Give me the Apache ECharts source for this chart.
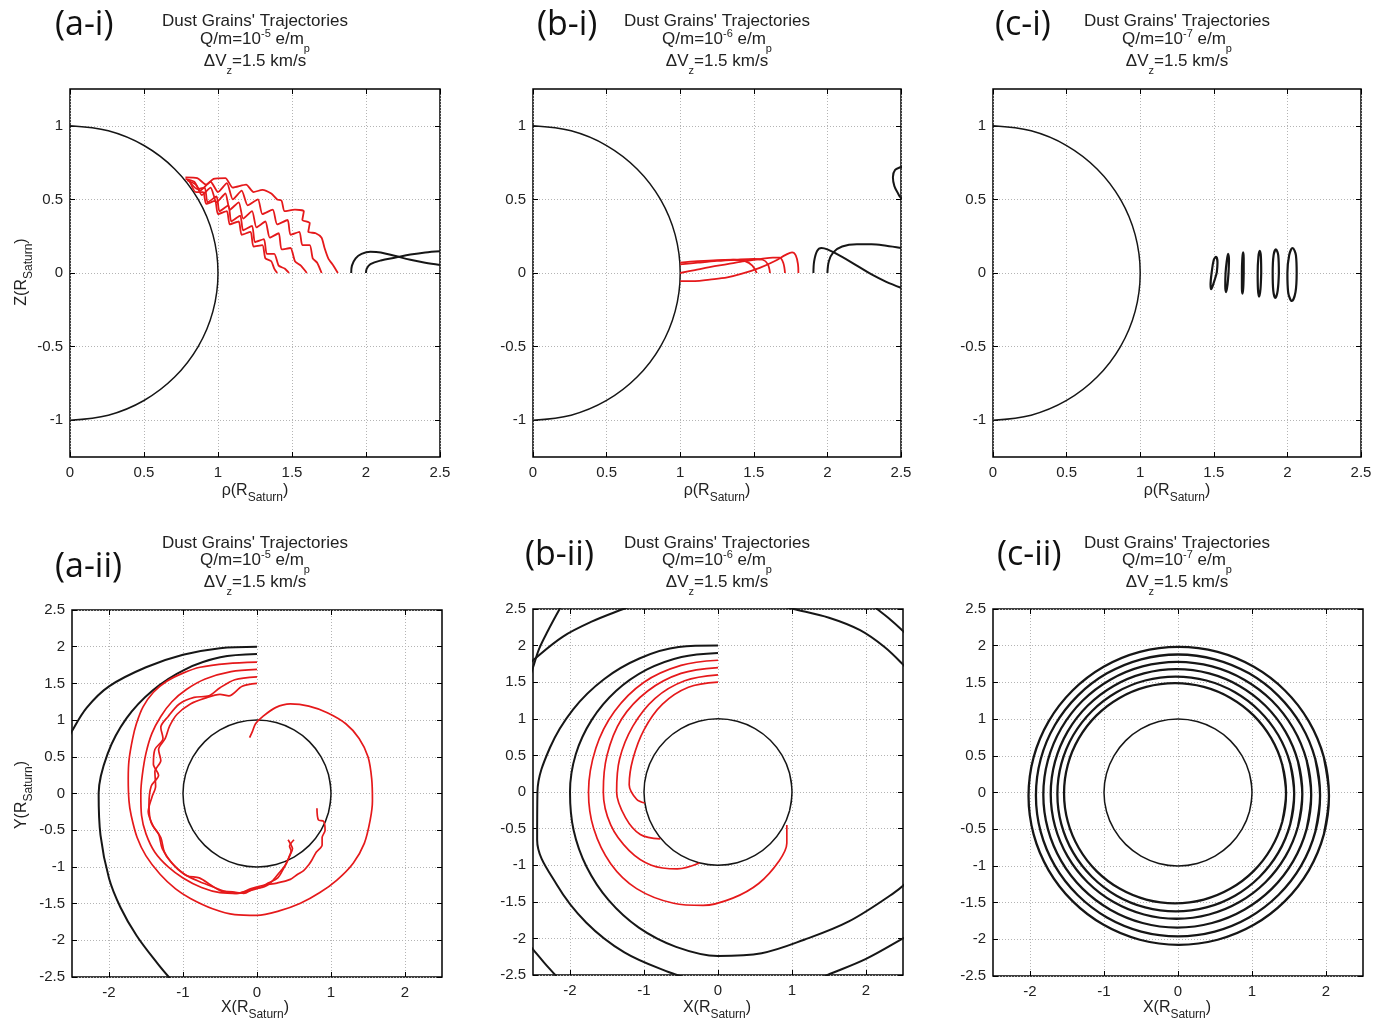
<!DOCTYPE html>
<html><head><meta charset="utf-8">
<script src="https://cdn.jsdelivr.net/npm/echarts@6/dist/echarts.min.js"></script>
<style>html,body{margin:0;padding:0;background:#fff}#c{width:1389px;height:1024px}</style>
</head><body><div id="c"></div>
<script>
// ---------- tick values ----------
const topXTicks = [0, 0.5, 1, 1.5, 2, 2.5];
const topYTicks = [-1, -0.5, 0, 0.5, 1];
const botXTicks = [-2, -1, 0, 1, 2];
const botYTicks = [-2.5, -2, -1.5, -1, -0.5, 0, 0.5, 1, 1.5, 2, 2.5];

// ---------- labels ----------
const panelLabels = ['(a-i)', '(b-i)', '(c-i)', '(a-ii)', '(b-ii)', '(c-ii)'];
const qmExponents = ['-5', '-6', '-7', '-5', '-6', '-7'];
const titleLine1 = "Dust Grains' Trajectories";

// ---------- Saturn outline ----------
const saturnHalf = [[0,1],[0.259,0.966],[0.5,0.866],[0.707,0.707],[0.866,0.5],[0.966,0.259],[1,0],[0.966,-0.259],[0.866,-0.5],[0.707,-0.707],[0.5,-0.866],[0.259,-0.966],[0,-1]];
const saturnCircle = [[0.966,-0.259],[1,0],[0.966,0.259],[0.866,0.5],[0.707,0.707],[0.5,0.866],[0.259,0.966],[0,1],[-0.259,0.966],[-0.5,0.866],[-0.707,0.707],[-0.866,0.5],[-0.966,0.259],[-1,0],[-0.966,-0.259],[-0.866,-0.5],[-0.707,-0.707],[-0.5,-0.866],[-0.259,-0.966],[0,-1],[0.259,-0.966],[0.5,-0.866],[0.707,-0.707],[0.866,-0.5],[0.966,-0.259],[1,0],[0.966,0.259]];

// ---------- (a-i) ----------
const aiRed1 = [[0.81,0.62],[0.85,0.55],[0.90,0.55],[0.92,0.47],[0.98,0.49],[1.0,0.40],[1.06,0.42],[1.08,0.33],[1.14,0.35],[1.16,0.26],[1.22,0.28],[1.24,0.18],[1.30,0.19],[1.32,0.10],[1.36,0.08],[1.38,0.03],[1.40,0]];
const aiRed2 = [[0.80,0.63],[0.86,0.57],[0.91,0.58],[0.93,0.48],[0.99,0.52],[1.01,0.42],[1.07,0.46],[1.09,0.35],[1.15,0.39],[1.17,0.29],[1.23,0.32],[1.25,0.21],[1.31,0.23],[1.33,0.13],[1.38,0.13],[1.41,0.05],[1.45,0.03],[1.48,0]];
const aiRed3 = [[0.79,0.63],[0.85,0.60],[0.89,0.53],[0.95,0.58],[0.99,0.48],[1.05,0.54],[1.08,0.43],[1.14,0.48],[1.17,0.37],[1.23,0.42],[1.26,0.31],[1.32,0.35],[1.35,0.24],[1.41,0.27],[1.43,0.16],[1.49,0.17],[1.52,0.08],[1.56,0.05],[1.60,0]];
const aiRed4 = [[0.78,0.64],[0.84,0.62],[0.88,0.56],[0.95,0.62],[1.0,0.55],[1.06,0.61],[1.10,0.50],[1.16,0.56],[1.20,0.46],[1.27,0.50],[1.30,0.40],[1.37,0.43],[1.40,0.33],[1.47,0.36],[1.49,0.26],[1.55,0.28],[1.57,0.19],[1.62,0.19],[1.64,0.10],[1.67,0.07],[1.70,0]];
const aiRed5 = [[0.78,0.65],[0.86,0.645],[0.92,0.60],[0.97,0.64],[1.05,0.645],[1.10,0.58],[1.19,0.60],[1.24,0.55],[1.30,0.565],[1.36,0.54],[1.40,0.50],[1.43,0.49],[1.45,0.42],[1.52,0.43],[1.58,0.42],[1.57,0.36],[1.62,0.34],[1.61,0.28],[1.66,0.27],[1.70,0.24],[1.72,0.17],[1.745,0.10],[1.78,0.05],[1.81,0]];
const aiBlack1 = [[1.90,0],[1.905,0.05],[1.93,0.10],[1.97,0.13],[2.03,0.145],[2.10,0.14],[2.20,0.115],[2.30,0.09],[2.40,0.07],[2.5,0.055]];
const aiBlack2 = [[2.0,0],[2.005,0.03],[2.03,0.06],[2.10,0.085],[2.20,0.105],[2.30,0.125],[2.40,0.14],[2.5,0.148]];

// ---------- (b-i) ----------
const biRed1 = [[1.0,-0.055],[1.1,-0.055],[1.2,-0.045],[1.32,-0.03],[1.42,-0.005],[1.54,0.035],[1.64,0.08],[1.72,0.125],[1.76,0.14],[1.785,0.12],[1.80,0.06],[1.803,0]];
const biRed2 = [[1.0,0.0],[1.1,0.02],[1.2,0.04],[1.32,0.06],[1.44,0.08],[1.55,0.095],[1.63,0.105],[1.675,0.105],[1.70,0.07],[1.712,0]];
const biRed3 = [[1.0,0.058],[1.12,0.07],[1.25,0.082],[1.38,0.09],[1.50,0.095],[1.56,0.09],[1.595,0.06],[1.61,0]];
const biRed4 = [[1.0,0.07],[1.12,0.08],[1.25,0.088],[1.36,0.09],[1.44,0.08],[1.49,0.05],[1.52,0]];
const biBlack1 = [[1.905,0],[1.91,0.08],[1.93,0.15],[1.96,0.17],[2.0,0.16],[2.1,0.11],[2.2,0.05],[2.3,-0.01],[2.4,-0.06],[2.5,-0.1]];
const biBlack2 = [[2.0,0],[2.01,0.08],[2.04,0.14],[2.1,0.18],[2.2,0.195],[2.3,0.195],[2.4,0.185],[2.5,0.17]];
const biBlack3 = [[2.55,0.74],[2.5,0.72],[2.46,0.70],[2.445,0.65],[2.455,0.59],[2.48,0.54],[2.5,0.51],[2.55,0.49]];

// ---------- (c-i) ----------
const ciLoop1 = [[1.52,0.0],[1.525,0.07],[1.515,0.11],[1.50,0.09],[1.485,0.0],[1.478,-0.08],[1.482,-0.11],[1.495,-0.08],[1.52,0.0]];
const ciLoop2 = [[1.600,0],[1.603,0.09],[1.597,0.13],[1.588,0.08],[1.580,0],[1.578,-0.09],[1.584,-0.13],[1.593,-0.08],[1.600,0]];
const ciLoop3 = [[1.703,0],[1.703,0.10],[1.699,0.14],[1.694,0.10],[1.691,0],[1.691,-0.10],[1.695,-0.14],[1.700,-0.10],[1.703,0]];
const ciLoop4 = [[1.822,0],[1.820,0.11],[1.812,0.15],[1.803,0.11],[1.798,0],[1.800,-0.11],[1.808,-0.16],[1.817,-0.11],[1.822,0]];
const ciLoop5 = [[1.942,0],[1.938,0.12],[1.922,0.16],[1.906,0.12],[1.900,0],[1.904,-0.12],[1.918,-0.17],[1.934,-0.12],[1.942,0]];
const ciLoop6 = [[2.063,0],[2.058,0.12],[2.035,0.17],[2.012,0.12],[2.000,0],[2.005,-0.13],[2.030,-0.19],[2.055,-0.13],[2.063,0]];

// ---------- (a-ii) ----------
const aiiBlack1 = [[0,2.0],[-0.5,1.98],[-1.0,1.89],[-1.5,1.72],[-2.0,1.46],[-2.3,1.17],[-2.5,0.85],[-2.6,0.65]];
const aiiBlack2 = [[0,1.9],[-0.497,1.855],[-0.975,1.689],[-1.407,1.407],[-1.767,1.02],[-2.019,0.541],[-2.14,0],[-2.115,-0.567],[-2.0,-1.155],[-1.846,-1.549],[-1.626,-1.938],[-1.34,-2.321],[-1.175,-2.52],[-0.992,-2.725]];
const aiiRed1 = [[0,1.79],[-0.4,1.77],[-0.77,1.72],[-1.0,1.64],[-1.22,1.53],[-1.40,1.38],[-1.54,1.18],[-1.63,0.95],[-1.68,0.75],[-1.73,0.45],[-1.74,0.2],[-1.73,-0.1],[-1.70,-0.3],[-1.62,-0.6],[-1.5,-0.85],[-1.31,-1.1],[-1.1,-1.3],[-0.9,-1.43],[-0.6,-1.57],[-0.3,-1.65],[0.0,-1.66],[0.3,-1.6],[0.58,-1.5],[0.85,-1.35],[1.08,-1.18],[1.3,-0.95],[1.45,-0.68],[1.53,-0.36],[1.56,-0.1],[1.55,0.2],[1.5,0.5],[1.38,0.75],[1.2,0.95],[0.95,1.1],[0.7,1.19],[0.45,1.22],[0.25,1.17],[0.08,1.05],[-0.02,0.95],[-0.06,0.85],[-0.1,0.76]];
const aiiRed2 = [[0,1.69],[-0.35,1.66],[-0.7,1.56],[-0.95,1.42],[-1.15,1.25],[-1.3,1.05],[-1.42,0.82],[-1.5,0.55],[-1.55,0.25],[-1.57,0.0],[-1.56,-0.3],[-1.5,-0.55],[-1.38,-0.8],[-1.2,-1.0],[-1.0,-1.15],[-0.75,-1.28],[-0.5,-1.35],[-0.25,-1.36],[-0.09,-1.3],[0.09,-1.25],[0.27,-1.22],[0.45,-1.17],[0.55,-1.1],[0.63,-1.05],[0.7,-0.97],[0.74,-0.91],[0.8,-0.8],[0.88,-0.7],[0.88,-0.6],[0.92,-0.5],[0.9,-0.38],[0.83,-0.36],[0.81,-0.2]];
const aiiRed3 = [[0,1.59],[-0.3,1.55],[-0.5,1.44],[-0.65,1.33],[-0.85,1.31],[-1.05,1.22],[-1.2,1.05],[-1.3,0.9],[-1.27,0.75],[-1.38,0.6],[-1.4,0.4],[-1.33,0.25],[-1.43,0.1],[-1.46,-0.15],[-1.43,-0.4],[-1.33,-0.55],[-1.28,-0.75],[-1.15,-0.95],[-0.98,-1.1],[-0.78,-1.2],[-0.6,-1.27],[-0.45,-1.33],[-0.3,-1.36],[-0.12,-1.33],[0.05,-1.28],[0.15,-1.22],[0.28,-1.15],[0.36,-1.02],[0.42,-0.9],[0.46,-0.78],[0.44,-0.72],[0.5,-0.63]];
const aiiRed4 = [[0,1.50],[-0.2,1.46],[-0.38,1.33],[-0.5,1.35],[-0.7,1.3],[-0.9,1.22],[-1.08,1.08],[-1.18,0.92],[-1.24,0.75],[-1.33,0.6],[-1.3,0.45],[-1.38,0.3],[-1.37,0.1],[-1.42,-0.05],[-1.47,-0.25],[-1.4,-0.45],[-1.3,-0.6],[-1.25,-0.8],[-1.12,-0.98],[-0.95,-1.12],[-0.78,-1.15],[-0.62,-1.25],[-0.48,-1.33],[-0.33,-1.34],[-0.18,-1.36],[-0.05,-1.3],[0.1,-1.27],[0.2,-1.2],[0.3,-1.08],[0.38,-0.98],[0.44,-0.85],[0.48,-0.75],[0.46,-0.7],[0.42,-0.63]];

// ---------- (b-ii) ----------
const biiBlack1 = [[0,1.9],[-0.494,1.845],[-0.965,1.671],[-1.379,1.379],[-1.706,0.985],[-1.922,0.515],[-2.0,0],[-1.951,-0.523],[-1.775,-1.025],[-1.478,-1.478],[-1.07,-1.853],[-0.567,-2.115],[0,-2.24],[0.59,-2.202],[1.165,-2.018],[1.768,-1.768],[2.382,-1.375],[2.583,-1.204]];
const biiBlack2 = [[0,2.0],[-0.531,1.98],[-1.055,1.827],[-1.541,1.541],[-1.957,1.13],[-2.27,0.608],[-2.44,0],[-2.444,-0.655],[-2.182,-1.26],[-1.782,-1.782],[-1.265,-2.191],[-0.66,-2.463],[-0.359,-2.555]];
const biiArc1 = [[0.9,2.53],[1.02,2.5],[1.5,2.38],[1.92,2.21],[2.25,1.98],[2.5,1.74],[2.6,1.62]];
const biiArc2 = [[-1.15,2.55],[-1.28,2.5],[-1.7,2.33],[-2.1,2.12],[-2.5,1.8],[-2.6,1.7]];
const biiArc3 = [[-2.08,2.6],[-2.14,2.5],[-2.3,2.2],[-2.42,1.95],[-2.5,1.7],[-2.55,1.55]];
const biiArc4 = [[2.05,2.58],[2.15,2.5],[2.3,2.38],[2.5,2.2],[2.6,2.1]];
const biiArc5 = [[-2.6,-2.03],[-2.5,-2.15],[-2.35,-2.33],[-2.2,-2.5],[-2.12,-2.6]];
const biiArc6 = [[1.3,-2.58],[1.48,-2.5],[2.0,-2.28],[2.5,-2.0],[2.6,-1.94]];
const biiRed1 = [[0,1.8],[-0.5,1.73],[-1.0,1.5],[-1.4,1.1],[-1.65,0.6],[-1.75,0],[-1.68,-0.5],[-1.45,-0.98],[-1.1,-1.32],[-0.6,-1.52],[-0.2,-1.55],[0.2,-1.45],[0.55,-1.25],[0.82,-0.95],[0.93,-0.7],[0.93,-0.45]];
const biiRed2 = [[0,1.7],[-0.5,1.62],[-0.95,1.38],[-1.3,1.0],[-1.5,0.5],[-1.55,0],[-1.45,-0.45],[-1.2,-0.8],[-0.9,-1.0],[-0.55,-1.05],[-0.25,-0.97]];
const biiRed3 = [[0,1.6],[-0.45,1.52],[-0.85,1.28],[-1.15,0.9],[-1.33,0.45],[-1.37,0],[-1.25,-0.35],[-1.05,-0.58],[-0.78,-0.64]];
const biiRed4 = [[0,1.5],[-0.4,1.43],[-0.75,1.2],[-1.0,0.85],[-1.15,0.45],[-1.2,0.1],[-1.1,-0.1],[-0.99,-0.15]];

// ---------- (c-ii) rings ----------
const ciiRing1 = [[1.409,-0.399],[1.46,-0.01],[1.409,0.379],[1.259,0.74],[1.021,1.051],[0.71,1.289],[0.349,1.439],[-0.04,1.49],[-0.429,1.439],[-0.79,1.289],[-1.101,1.051],[-1.339,0.74],[-1.489,0.379],[-1.54,-0.01],[-1.489,-0.399],[-1.339,-0.76],[-1.101,-1.071],[-0.79,-1.309],[-0.429,-1.459],[-0.04,-1.51],[0.349,-1.459],[0.71,-1.309],[1.021,-1.071],[1.259,-0.76],[1.409,-0.399],[1.46,-0.01],[1.409,0.379]];
const ciiRing2 = [[1.516,-0.434],[1.57,-0.02],[1.516,0.394],[1.356,0.78],[1.101,1.111],[0.77,1.366],[0.384,1.526],[-0.03,1.58],[-0.444,1.526],[-0.83,1.366],[-1.161,1.111],[-1.416,0.78],[-1.576,0.394],[-1.63,-0.02],[-1.576,-0.434],[-1.416,-0.82],[-1.161,-1.151],[-0.83,-1.406],[-0.444,-1.566],[-0.03,-1.62],[0.384,-1.566],[0.77,-1.406],[1.101,-1.151],[1.356,-0.82],[1.516,-0.434],[1.57,-0.02],[1.516,0.394]];
const ciiRing3 = [[1.622,-0.46],[1.68,-0.02],[1.622,0.42],[1.452,0.83],[1.182,1.182],[0.83,1.452],[0.42,1.622],[-0.02,1.68],[-0.46,1.622],[-0.87,1.452],[-1.222,1.182],[-1.492,0.83],[-1.662,0.42],[-1.72,-0.02],[-1.662,-0.46],[-1.492,-0.87],[-1.222,-1.222],[-0.87,-1.492],[-0.46,-1.662],[-0.02,-1.72],[0.42,-1.662],[0.83,-1.492],[1.182,-1.222],[1.452,-0.87],[1.622,-0.46],[1.68,-0.02],[1.622,0.42]];
const ciiRing4 = [[1.738,-0.499],[1.80,-0.03],[1.738,0.439],[1.557,0.875],[1.27,1.25],[0.895,1.537],[0.459,1.718],[-0.01,1.78],[-0.479,1.718],[-0.915,1.537],[-1.29,1.25],[-1.577,0.875],[-1.758,0.439],[-1.82,-0.03],[-1.758,-0.499],[-1.577,-0.935],[-1.29,-1.31],[-0.915,-1.597],[-0.479,-1.778],[-0.01,-1.84],[0.459,-1.778],[0.895,-1.597],[1.27,-1.31],[1.557,-0.935],[1.738,-0.499],[1.80,-0.03],[1.738,0.439]];
const ciiRing5 = [[1.855,-0.537],[1.92,-0.04],[1.855,0.457],[1.663,0.92],[1.357,1.317],[0.96,1.623],[0.497,1.815],[0,1.88],[-0.497,1.815],[-0.96,1.623],[-1.357,1.317],[-1.663,0.92],[-1.855,0.457],[-1.92,-0.04],[-1.855,-0.537],[-1.663,-1.0],[-1.357,-1.397],[-0.96,-1.703],[-0.497,-1.895],[0,-1.96],[0.497,-1.895],[0.96,-1.703],[1.357,-1.397],[1.663,-1.0],[1.855,-0.537],[1.92,-0.04],[1.855,0.457]];
const ciiRing6 = [[1.971,-0.571],[2.04,-0.045],[1.971,0.481],[1.768,0.97],[1.445,1.39],[1.025,1.713],[0.536,1.916],[0.01,1.985],[-0.516,1.916],[-1.005,1.713],[-1.425,1.39],[-1.748,0.97],[-1.951,0.481],[-2.02,-0.045],[-1.951,-0.571],[-1.748,-1.06],[-1.425,-1.48],[-1.005,-1.803],[-0.516,-2.006],[0.01,-2.075],[0.536,-2.006],[1.025,-1.803],[1.445,-1.48],[1.768,-1.06],[1.971,-0.571],[2.04,-0.045],[1.971,0.481]];

// ---------- build chart ----------
const BLACK = '#161616', RED = '#e5191b';
const FONT = 'Liberation Sans';
const gridBoxes = [[70,89,370,368],[533,89,368,368],[993,89,368,368],[72,610,370,367],[533,609,370,366],[993,609,370,367]];

const grid = [], xAxis = [], yAxis = [], series = [];
function mkAxis(gi, pos, range, ticks, primary, isX) {
  return {
    type: 'value', gridIndex: gi, position: pos, min: range[0], max: range[1],
    axisLine: { show: false, onZero: false },
    axisTick: { show: true, inside: true, length: 5, lineStyle: { color: '#000', width: 1 }, customValues: ticks },
    axisLabel: { show: primary, customValues: ticks, fontSize: 15, color: '#222', fontFamily: FONT, margin: isX ? 8 : 7 },
    splitLine: { show: primary, lineStyle: { type: [1, 2], color: '#b4b4b4', width: 1 } }
  };
}
gridBoxes.forEach((g, i) => {
  const top = i < 3;
  grid.push({ left: g[0], top: g[1], width: g[2], height: g[3], show: true, borderColor: '#000', borderWidth: 1.5, backgroundColor: 'transparent', containLabel: false, outerBoundsMode: 'none' });
  const xr = top ? [0, 2.5] : [-2.5, 2.5], yr = top ? [-1.25, 1.25] : [-2.5, 2.5];
  const xt = top ? topXTicks : botXTicks, yt = top ? topYTicks : botYTicks;
  xAxis.push(mkAxis(i, 'bottom', xr, xt, true, true));
  xAxis.push(mkAxis(i, 'top', xr, xt, false, true));
  yAxis.push(mkAxis(i, 'left', yr, yt, true, false));
  yAxis.push(mkAxis(i, 'right', yr, yt, false, false));
});
function line(gi, data, color, width, smooth) {
  series.push({ type: 'line', xAxisIndex: gi * 2, yAxisIndex: gi * 2, data: data, symbol: 'none', showSymbol: false,
    smooth: smooth, lineStyle: { color: color, width: width }, silent: true, animation: false, clip: true, z: 3 });
}
// a-i
line(0, saturnHalf, BLACK, 1.5, 0.35);
[aiRed1, aiRed2, aiRed3, aiRed4, aiRed5].forEach(d => line(0, d, RED, 1.8, 0.2));
[aiBlack1, aiBlack2].forEach(d => line(0, d, BLACK, 2, 0.35));
// b-i
line(1, saturnHalf, BLACK, 1.5, 0.35);
[biRed1, biRed2, biRed3, biRed4].forEach(d => line(1, d, RED, 1.8, 0.35));
[biBlack1, biBlack2, biBlack3].forEach(d => line(1, d, BLACK, 2, 0.35));
// c-i
line(2, saturnHalf, BLACK, 1.5, 0.35);
[ciLoop1, ciLoop2, ciLoop3, ciLoop4, ciLoop5, ciLoop6].forEach(d => line(2, d, BLACK, 2.2, 0.35));
// a-ii
line(3, saturnCircle, BLACK, 1.5, 0.35);
[aiiBlack1, aiiBlack2].forEach(d => line(3, d, BLACK, 2, 0.35));
[aiiRed1, aiiRed2, aiiRed3, aiiRed4].forEach(d => line(3, d, RED, 1.7, 0.3));
// b-ii
line(4, saturnCircle, BLACK, 1.5, 0.35);
[biiBlack1, biiBlack2, biiArc1, biiArc2, biiArc3, biiArc4, biiArc5, biiArc6].forEach(d => line(4, d, BLACK, 2, 0.35));
[biiRed1, biiRed2, biiRed3, biiRed4].forEach(d => line(4, d, RED, 1.7, 0.35));
// c-ii
line(5, saturnCircle, BLACK, 1.5, 0.35);
[ciiRing1, ciiRing2, ciiRing3, ciiRing4, ciiRing5, ciiRing6].forEach(d => line(5, d, BLACK, 2.3, 0.35));

// ---------- text ----------
const RICH = {
  t: { fontSize: 17, fontFamily: FONT, fill: '#222' },
  sup: { fontSize: 11, fontFamily: FONT, fill: '#222', padding: [0, 0, 10, 0] },
  sub: { fontSize: 11, fontFamily: FONT, fill: '#222', padding: [20, 0, 0, 0] },
  n: { fontSize: 16, fontFamily: FONT, fill: '#222' },
  ns: { fontSize: 12, fontFamily: FONT, fill: '#222', padding: [14, 0, 0, 0] }
};
function txt(x, y, text, extra) {
  return Object.assign({ type: 'text', x: x, y: y, silent: true,
    style: { text: text, rich: RICH, align: 'center', verticalAlign: 'middle', textAlign: 'center', textVerticalAlign: 'middle', fill: '#222' } }, extra || {});
}
const titleCx = [255, 717, 1177, 255, 717, 1177];
const titleYs = [[21, 39, 61], [21, 39, 61], [21, 39, 61], [543, 560, 582], [543, 560, 582], [543, 560, 582]];
const labelPos = [[55, 25], [537, 25], [995, 25], [55, 567], [525, 555], [997, 555]];
const graphic = [];
for (let i = 0; i < 6; i++) {
  const cx = titleCx[i], ys = titleYs[i];
  graphic.push(txt(cx, ys[0], '{t|' + titleLine1 + '}'));
  graphic.push(txt(cx, ys[1], '{t|Q/m=10}{sup|' + qmExponents[i] + '}{t| e/m}{sub|p}'));
  graphic.push(txt(cx, ys[2], '{t|\u0394V}{sub|z}{t|=1.5 km/s}'));
  graphic.push({ type: 'text', x: labelPos[i][0], y: labelPos[i][1], silent: true,
    style: { text: panelLabels[i], fontSize: 34, fontFamily: 'Open Sans', fill: '#111', align: 'left', verticalAlign: 'middle', textAlign: 'left', textVerticalAlign: 'middle' } });
  const xName = i < 3 ? '{n|\u03c1(R}{ns|Saturn}{n|)}' : '{n|X(R}{ns|Saturn}{n|)}';
  graphic.push(txt(cx, i < 3 ? 491 : 1008, xName));
}
graphic.push(txt(22, 272, '{n|Z(R}{ns|Saturn}{n|)}', { rotation: Math.PI / 2 }));
graphic.push(txt(22, 795, '{n|Y(R}{ns|Saturn}{n|)}', { rotation: Math.PI / 2 }));

const chart = echarts.init(document.getElementById('c'), null, { renderer: 'canvas' });
chart.setOption({ animation: false, backgroundColor: '#fff', grid, xAxis, yAxis, series, graphic });
</script>
</body></html>
